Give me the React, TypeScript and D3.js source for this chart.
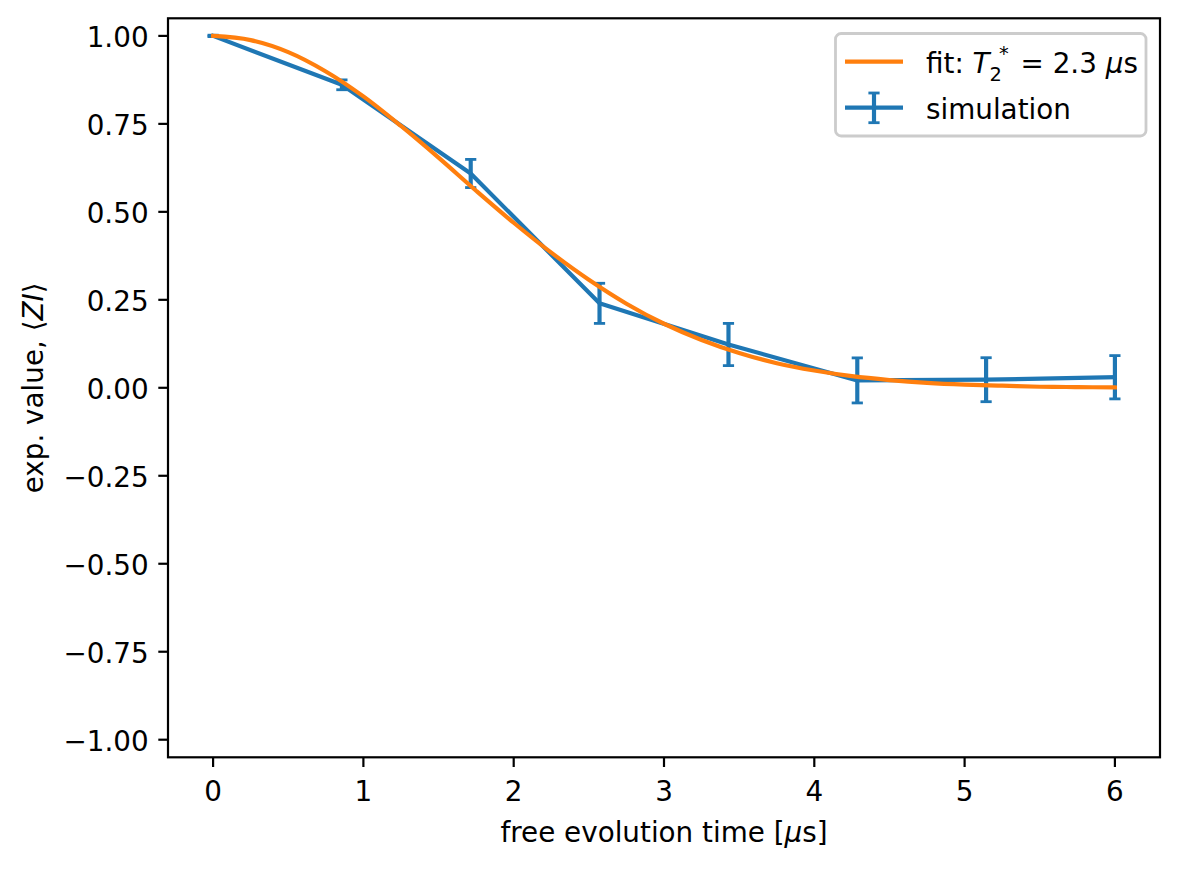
import React from "react";
import * as d3 from "d3";

// simulated expectation values with their error bars
const simTimes = [0, 0.857, 1.714, 2.571, 3.429, 4.286, 5.143, 6.0];
const simValues = [1.0, 0.861, 0.609, 0.24, 0.123, 0.021, 0.023, 0.03];
const simErrors = [0.002, 0.014, 0.04, 0.057, 0.06, 0.064, 0.0625, 0.0615];

// fitted curve
const fitTimes = [0, 0.25, 0.5, 0.75, 1.0, 1.25, 1.5, 1.75, 2.0, 2.25, 2.5, 2.75, 3.0, 3.25, 3.5, 3.75, 4.0, 4.25, 4.5, 4.75, 5.0, 5.25, 5.5, 5.75, 6.0];
const fitValues = [1.0, 0.988, 0.954, 0.899, 0.828, 0.744, 0.654, 0.56, 0.469, 0.384, 0.307, 0.239, 0.182, 0.136, 0.099, 0.07, 0.049, 0.033, 0.022, 0.014, 0.009, 0.006, 0.003, 0.002, 0.001];

const xTicks = [0, 1, 2, 3, 4, 5, 6];
const yTicks = [-1, -0.75, -0.5, -0.25, 0, 0.25, 0.5, 0.75, 1];

const BLUE = "#1f77b4";
const ORANGE = "#ff7f0e";
const FONT = "DejaVu Sans";
const FS = 27.8;

const W = 1179;
const H = 869;
const plot = { left: 168, right: 1160, top: 18.3, bottom: 757.3 };

export default function App() {
  const x = d3.scaleLinear().domain([-0.3, 6.3]).range([plot.left, plot.right]);
  const y = d3.scaleLinear().domain([-1.05, 1.05]).range([plot.bottom, plot.top]);
  const fmt = d3.format(".2f");

  const sim = simTimes.map((t, i) => ({ t, v: simValues[i], e: simErrors[i] }));
  const fit = fitTimes.map((t, i) => ({ t, v: fitValues[i] }));

  const simLine = d3.line<{ t: number; v: number }>()
    .x(d => x(d.t))
    .y(d => y(d.v));
  const fitLine = d3.line<{ t: number; v: number }>()
    .x(d => x(d.t))
    .y(d => y(d.v))
    .curve(d3.curveCatmullRom);

  const capHalf = 5.6;
  const lw = 4.17;

  // legend
  const lg = { x: 835.5, y: 33.5, w: 310.5, h: 102.5 };
  const hx0 = 845, hx1 = 903, hxm = 874;
  const row1 = 61.7, row2 = 107.7;

  return (
    <svg width={W} height={H} style={{ position: "absolute", left: 0, top: 0 }} fontFamily={FONT}>
      <rect x={0} y={0} width={W} height={H} fill="white" />

      {/* simulation with error bars */}
      <g stroke={BLUE} fill="none">
        {sim.map((d, i) => (
          <g key={i}>
            <line x1={x(d.t)} x2={x(d.t)} y1={y(d.v - d.e)} y2={y(d.v + d.e)} strokeWidth={lw} />
            <line x1={x(d.t) - capHalf} x2={x(d.t) + capHalf} y1={y(d.v - d.e)} y2={y(d.v - d.e)} strokeWidth={2.8} />
            <line x1={x(d.t) - capHalf} x2={x(d.t) + capHalf} y1={y(d.v + d.e)} y2={y(d.v + d.e)} strokeWidth={2.8} />
          </g>
        ))}
        <path d={simLine(sim) ?? ""} strokeWidth={lw} strokeLinejoin="round" strokeLinecap="square" />
      </g>

      {/* fit */}
      <path d={fitLine(fit) ?? ""} fill="none" stroke={ORANGE} strokeWidth={lw} strokeLinejoin="round" strokeLinecap="square" />

      {/* spines */}
      <rect x={plot.left} y={plot.top} width={plot.right - plot.left} height={plot.bottom - plot.top}
        fill="none" stroke="black" strokeWidth={2.2} />

      {/* x axis */}
      {xTicks.map(t => (
        <g key={t}>
          <line x1={x(t)} x2={x(t)} y1={plot.bottom} y2={plot.bottom + 9.7} stroke="black" strokeWidth={2.2} />
          <text x={x(t)} y={800.7} textAnchor="middle" fontSize={FS}>{t}</text>
        </g>
      ))}
      <text x={(plot.left + plot.right) / 2} y={841.7} textAnchor="middle" fontSize={FS}>
        free evolution time [<tspan fontStyle="italic">μ</tspan>s]
      </text>

      {/* y axis */}
      {yTicks.map(t => (
        <g key={t}>
          <line x1={plot.left} x2={plot.left - 9.7} y1={y(t)} y2={y(t)} stroke="black" strokeWidth={2.2} />
          <text x={148.6} y={y(t) + 11.2} textAnchor="end" fontSize={FS}>{fmt(t)}</text>
        </g>
      ))}
      <text transform={`translate(43,${(plot.top + plot.bottom) / 2}) rotate(-90)`} textAnchor="middle" fontSize={FS}>
        exp. value, ⟨<tspan fontStyle="italic">ZI</tspan>⟩
      </text>

      {/* legend */}
      <rect x={lg.x} y={lg.y} width={lg.w} height={lg.h} rx={5.6} fill="white" fillOpacity={0.8}
        stroke="#cccccc" strokeWidth={2.8} />
      <line x1={hx0} x2={hx1} y1={row1} y2={row1} stroke={ORANGE} strokeWidth={lw} />
      <text x={926} y={row1 + 11.6} fontSize={FS}>
        fit: <tspan fontStyle="italic">T</tspan>
        <tspan fontSize={FS * 0.7} dy={8}>2</tspan>
        <tspan fontSize={FS * 0.7} dx={-3} dy={-21.5}>*</tspan>
        <tspan dx={3} dy={13.5}> = 2.3 </tspan>
        <tspan fontStyle="italic">μ</tspan>s
      </text>
      <g stroke={BLUE}>
        <line x1={hx0} x2={hx1} y1={row2} y2={row2} strokeWidth={lw} />
        <line x1={hxm} x2={hxm} y1={93} y2={122.7} strokeWidth={lw} />
        <line x1={hxm - capHalf} x2={hxm + capHalf} y1={93} y2={93} strokeWidth={2.8} />
        <line x1={hxm - capHalf} x2={hxm + capHalf} y1={122.7} y2={122.7} strokeWidth={2.8} />
      </g>
      <text x={926} y={row2 + 11.6} fontSize={FS}>simulation</text>
    </svg>
  );
}
